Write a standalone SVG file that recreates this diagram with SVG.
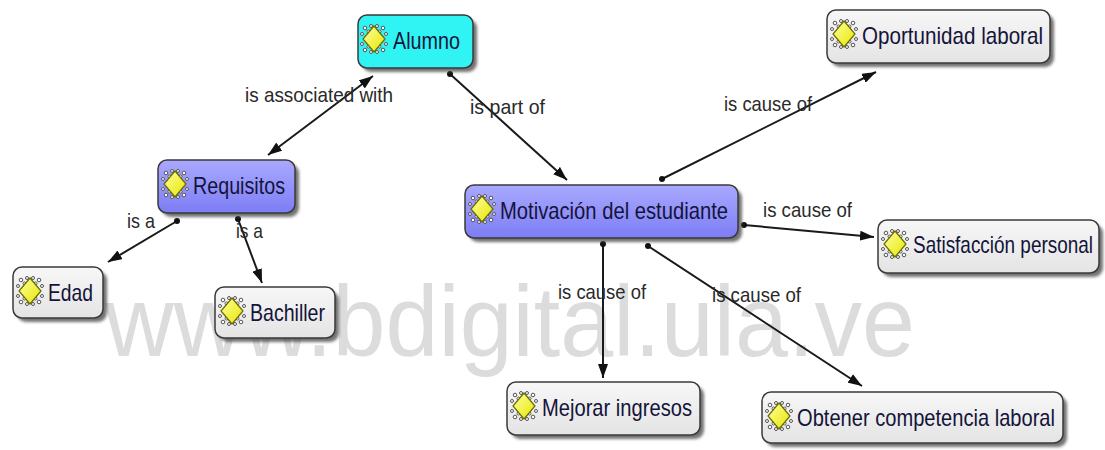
<svg xmlns="http://www.w3.org/2000/svg" xmlns:xlink="http://www.w3.org/1999/xlink" width="1105" height="450" viewBox="0 0 1105 450">
<style>
.node rect.box{stroke:#3a3a3a;stroke-width:1.5}
.shadow{fill:#444;opacity:0.75;filter:url(#blur)}
.nt{font-family:"Liberation Sans",Arial,sans-serif;font-size:24px;fill:#14143a}
.lt{font-family:"Liberation Sans",Arial,sans-serif;font-size:21px;fill:#2a2a2a}
.conn line{stroke:#1a1a1a;stroke-width:2}
.wm{font-family:"Liberation Sans",Arial,sans-serif;font-size:100px;fill:#dcdcdc}
</style>
<defs>
<filter id="blur" x="-10%" y="-20%" width="120%" height="140%"><feGaussianBlur stdDeviation="1.5"/></filter>
<linearGradient id="gGray" x1="0" y1="0" x2="0" y2="1"><stop offset="0" stop-color="#f7f7f7"/><stop offset="1" stop-color="#e4e4e4"/></linearGradient>
<linearGradient id="gBlue" x1="0" y1="0" x2="0" y2="1"><stop offset="0" stop-color="#a9a9ff"/><stop offset="1" stop-color="#7d7df5"/></linearGradient>
<linearGradient id="gYel" x1="0" y1="0" x2="1" y2="1"><stop offset="0" stop-color="#ffffa0"/><stop offset="1" stop-color="#e6e600"/></linearGradient>
<marker id="arr" viewBox="0 0 14 10" refX="14" refY="5" markerWidth="14" markerHeight="10" markerUnits="userSpaceOnUse" orient="auto-start-reverse"><path d="M0,0 L14,5 L0,10 Z" fill="#111"/></marker>
<marker id="dot" viewBox="0 0 6 6" refX="3" refY="3" markerWidth="6" markerHeight="6" markerUnits="userSpaceOnUse"><circle cx="3" cy="3" r="3" fill="#111"/></marker>
<g id="ic">
<g fill="#fff" stroke="#555" stroke-width="1">
<circle cx="-9" cy="-11" r="1.8"/><circle cx="-5.5" cy="-7.5" r="1.5"/>
<circle cx="9" cy="-11" r="1.8"/><circle cx="5.5" cy="-7.5" r="1.5"/>
<circle cx="-9" cy="11" r="1.8"/><circle cx="-5.5" cy="7.5" r="1.5"/>
<circle cx="9" cy="11" r="1.8"/><circle cx="5.5" cy="7.5" r="1.5"/>
<circle cx="-12" cy="-5" r="1.5"/><circle cx="12" cy="-5" r="1.5"/>
<circle cx="-12" cy="5" r="1.5"/><circle cx="12" cy="5" r="1.5"/>
<circle cx="-3" cy="-13" r="1.5"/><circle cx="3" cy="-13" r="1.5"/>
<circle cx="-3" cy="13" r="1.5"/><circle cx="3" cy="13" r="1.5"/>
</g>
<path d="M0,-13 L11,0 L0,13 L-11,0 Z" fill="url(#gYel)" stroke="#6a6a00" stroke-width="1.2"/>
</g>
</defs>

<text class="wm" x="105" y="356" textLength="810" lengthAdjust="spacingAndGlyphs">www.bdigital.ula.ve</text>

<g id="connectors" class="conn">
<line x1="373" y1="76" x2="268" y2="155" marker-start="url(#arr)" marker-end="url(#arr)"/>
<line x1="450" y1="74" x2="567" y2="180" marker-start="url(#dot)" marker-end="url(#arr)"/>
<line x1="177" y1="221" x2="108" y2="262" marker-start="url(#dot)" marker-end="url(#arr)"/>
<line x1="238" y1="219" x2="262" y2="283" marker-start="url(#dot)" marker-end="url(#arr)"/>
<line x1="662" y1="179" x2="876" y2="72" marker-start="url(#dot)" marker-end="url(#arr)"/>
<line x1="744" y1="225" x2="874" y2="237" marker-start="url(#dot)" marker-end="url(#arr)"/>
<line x1="603" y1="244" x2="603" y2="378" marker-start="url(#dot)" marker-end="url(#arr)"/>
<line x1="648" y1="246" x2="862" y2="386" marker-start="url(#dot)" marker-end="url(#arr)"/>
<text class="lt" x="245" y="102" textLength="148" lengthAdjust="spacingAndGlyphs">is associated with</text>
<text class="lt" x="470" y="114" textLength="75" lengthAdjust="spacingAndGlyphs">is part of</text>
<text class="lt" x="127" y="228" textLength="28" lengthAdjust="spacingAndGlyphs">is a</text>
<text class="lt" x="236" y="238" textLength="27" lengthAdjust="spacingAndGlyphs">is a</text>
<text class="lt" x="724" y="111" textLength="88" lengthAdjust="spacingAndGlyphs">is cause of</text>
<text class="lt" x="763" y="217" textLength="89" lengthAdjust="spacingAndGlyphs">is cause of</text>
<text class="lt" x="558" y="299" textLength="88" lengthAdjust="spacingAndGlyphs">is cause of</text>
<text class="lt" x="712" y="302" textLength="89" lengthAdjust="spacingAndGlyphs">is cause of</text>
</g>

<g id="n-alumno" class="node">
<rect class="shadow" x="362" y="19" width="115" height="53" rx="9"/>
<rect class="box" x="358" y="15" width="115" height="53" rx="9" fill="#30f4f4"/>
<use xlink:href="#ic" href="#ic" x="374" y="39"/>
<text class="nt" x="393" y="49" textLength="67" lengthAdjust="spacingAndGlyphs">Alumno</text>
</g>

<g id="n-requisitos" class="node">
<rect class="shadow" x="162" y="164" width="137" height="53" rx="9"/>
<rect class="box" x="158" y="160" width="137" height="53" rx="9" fill="url(#gBlue)"/>
<use xlink:href="#ic" href="#ic" x="175" y="184"/>
<text class="nt" x="193" y="194" textLength="92" lengthAdjust="spacingAndGlyphs">Requisitos</text>
</g>

<g id="n-edad" class="node">
<rect class="shadow" x="17" y="271" width="90" height="51" rx="9"/>
<rect class="box" x="13" y="267" width="90" height="51" rx="9" fill="url(#gGray)"/>
<use xlink:href="#ic" href="#ic" x="30" y="291"/>
<text class="nt" x="48" y="301" textLength="45" lengthAdjust="spacingAndGlyphs">Edad</text>
</g>

<g id="n-bachiller" class="node">
<rect class="shadow" x="219" y="291" width="120" height="51" rx="9"/>
<rect class="box" x="215" y="287" width="120" height="51" rx="9" fill="url(#gGray)"/>
<use xlink:href="#ic" href="#ic" x="232" y="311"/>
<text class="nt" x="250" y="321" textLength="75" lengthAdjust="spacingAndGlyphs">Bachiller</text>
</g>

<g id="n-motivacion" class="node">
<rect class="shadow" x="469" y="189" width="273" height="53" rx="9"/>
<rect class="box" x="465" y="185" width="273" height="53" rx="9" fill="url(#gBlue)"/>
<use xlink:href="#ic" href="#ic" x="482" y="209"/>
<text class="nt" x="500" y="219" textLength="228" lengthAdjust="spacingAndGlyphs">Motivación del estudiante</text>
</g>

<g id="n-oportunidad" class="node">
<rect class="shadow" x="831" y="14" width="223" height="53" rx="9"/>
<rect class="box" x="827" y="10" width="223" height="53" rx="9" fill="url(#gGray)"/>
<use xlink:href="#ic" href="#ic" x="844" y="34"/>
<text class="nt" x="862" y="44" textLength="181" lengthAdjust="spacingAndGlyphs">Oportunidad laboral</text>
</g>

<g id="n-satisfaccion" class="node">
<rect class="shadow" x="882" y="224" width="221" height="53" rx="9"/>
<rect class="box" x="878" y="220" width="221" height="53" rx="9" fill="url(#gGray)"/>
<use xlink:href="#ic" href="#ic" x="895" y="244"/>
<text class="nt" x="913" y="253" textLength="180" lengthAdjust="spacingAndGlyphs">Satisfacción personal</text>
</g>

<g id="n-mejorar" class="node">
<rect class="shadow" x="511" y="386" width="193" height="53" rx="9"/>
<rect class="box" x="507" y="382" width="193" height="53" rx="9" fill="url(#gGray)"/>
<use xlink:href="#ic" href="#ic" x="524" y="406"/>
<text class="nt" x="542" y="416" textLength="150" lengthAdjust="spacingAndGlyphs">Mejorar ingresos</text>
</g>

<g id="n-obtener" class="node">
<rect class="shadow" x="766" y="396" width="301" height="51" rx="9"/>
<rect class="box" x="762" y="392" width="301" height="51" rx="9" fill="url(#gGray)"/>
<use xlink:href="#ic" href="#ic" x="779" y="416"/>
<text class="nt" x="797" y="426" textLength="258" lengthAdjust="spacingAndGlyphs">Obtener competencia laboral</text>
</g>
</svg>
